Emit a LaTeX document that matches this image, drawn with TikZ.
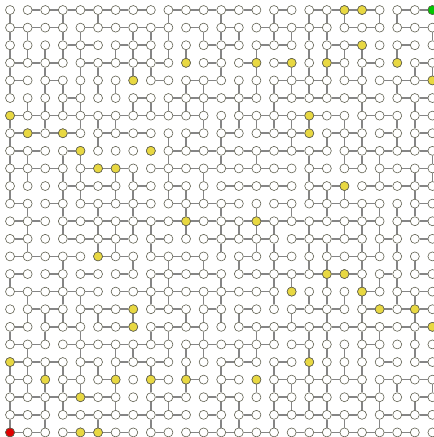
\documentclass[tikz,border=0pt]{standalone}
\usetikzlibrary{positioning}
\definecolor{rimgray}{HTML}{5E5E4E}
\definecolor{wiregray}{HTML}{858585}
\definecolor{goalyel}{HTML}{E8D842}
\definecolor{startred}{HTML}{E00000}
\definecolor{endgreen}{HTML}{00C800}

\tikzset{
  cell/.style={circle, draw=rimgray, fill=white, line width=0.5pt, inner sep=0pt, minimum size=0.27cm},
  wire/.style={wiregray, line width=1.4pt}
}

\begin{document}
\begin{tikzpicture}[x=0.528cm, y=-0.528cm]

% Frame
\useasboundingbox (-0.57,-0.57) rectangle (24.08,24.26);

% Grid cells
\foreach \c in {0,...,24}
  \foreach \r in {0,...,24}
    \node[cell] (n-\c-\r) at (\c,\r) {};

% Horizontal passages (row / left columns)
\foreach \r/\cs in {
  0/{1,2,3,4,5,6,7,9,10,11,12,13,15,17,18,19,20,22,23},
  1/{0,1,2,4,5,6,7,8,10,12,14,15,16,17,19,20,22,23},
  2/{3,4,6,7,11,12,14,15,18,19,22},
  3/{0,1,2,4,5,6,7,8,11,13,15,18,20,23},
  4/{0,2,8,10,11,15,16,17,19,21,22,23},
  5/{3,7,9,10,11,12,13,15,16,17,18,19,20,22,23},
  6/{0,1,2,3,4,5,6,7,8,9,10,13,14,15,16,17,18,20,21,23},
  7/{0,1,2,3,5,6,7,10,12,14,15,16,18,19,21,23},
  8/{0,1,3,9,10,11,12,13,14,15,16,17,19,20,21,22,23},
  9/{0,1,2,4,5,6,8,9,10,11,12,13,14,15,17,19,21,22,23},
  10/{3,4,5,7,9,12,13,14,15,17,18,20,21,22,23},
  11/{0,2,4,5,6,7,9,10,11,12,15,17,18,19,20,23},
  12/{0,1,3,4,5,6,7,8,9,10,11,12,13,14,15,16,17,18,19,20,22,23},
  13/{0,3,4,5,6,8,11,12,13,14,16,17,18,19,21,23},
  14/{0,1,2,3,5,6,8,9,10,13,15,18,19,20},
  15/{0,2,4,6,8,9,10,11,13,14,15,16,17,18,19,21,23},
  16/{0,1,2,3,4,6,7,8,9,10,11,12,13,14,20,22,23},
  17/{1,2,4,5,6,8,9,11,13,16,17,18,20,21,22,23},
  18/{0,2,3,5,6,8,9,10,13,14,15,16,17,18,19,20,21,22,23},
  19/{0,1,3,4,5,6,7,8,10,11,12,13,14,16,20},
  20/{0,1,2,4,6,7,8,12,13,15,21,23},
  21/{0,3,5,8,10,12,15,16,17,18,19,21,22,23},
  22/{0,1,2,3,4,5,8,9,11,12,15,17,19,20,23},
  23/{0,1,3,4,5,6,7,8,9,11,13,15,16,17,18,19,21,22,23},
  24/{0,1,3,4,5,6,8,10,11,12,13,14,16,17,18,19,20,21,22}}
  \foreach \c in \cs {
    \pgfmathtruncatemacro\cn{\c+1}
    \draw[wire] (n-\c-\r) -- (n-\cn-\r);
  }

% Vertical passages (upper row / columns)
\foreach \r/\cs in {
  0/{0,3,5,9,12,15,17,18,19,21,22},
  1/{0,1,3,4,7,8,9,11,12,13,15,16,17,18,24},
  2/{0,1,2,3,4,6,7,8,9,10,12,14,17,18,19,20,22},
  3/{0,2,4,5,7,8,12,14,16,17,18,19,20,23,24},
  4/{0,2,3,4,5,6,10,11,13,14,15,16,17,18,20,22},
  5/{1,2,3,4,7,8,9,10,11,13,15,20,23},
  6/{0,2,4,5,6,11,12,13,14,15,16,17,19,20,22,23},
  7/{0,5,9,10,12,16,18,19,20,22,23},
  8/{0,1,3,4,9,12,14,17,19,20,21,24},
  9/{0,1,3,4,6,7,9,11,17,21,23,24},
  10/{0,3,4,6,7,9,10,11,17,18,19,23},
  11/{1,3,5,7,10,12,14,16,18,20,21,22,23},
  12/{1,3,5,6,7,8,10,12,13,14,15,17,19,20,21,22},
  13/{1,5,6,8,12,14,15,17,18,20,21,22},
  14/{3,7,9,11,13,15,17,18,20,22,23},
  15/{0,3,8,9,12,15,16,18,20,21,22},
  16/{1,3,4,8,9,11,12,15,17,18,19,20,22,23},
  17/{1,2,3,4,5,7,10,11,12,13,16,18,20,23},
  18/{0,2,4,8,9,11,14,15,17,18,20,21,23},
  19/{1,4,6,7,9,10,11,13,14,17,18,19,20,21,23},
  20/{0,1,2,3,4,5,6,8,10,12,15,17,18,19,20},
  21/{0,1,2,3,4,6,8,10,12,14,15,16,17,18,20,21,22,24},
  22/{0,2,3,6,8,9,12,13,15,16,17,18,20,21,23},
  23/{0,2,5,8,12,13,15,18,19,21}}
  \foreach \c in \cs {
    \pgfmathtruncatemacro\rn{\r+1}
    \draw[wire] (n-\c-\r) -- (n-\c-\rn);
  }

% Marked cells
\foreach \c/\r in {19/0,20/0,20/2,10/3,14/3,16/3,18/3,22/3,7/4,24/4,0/6,17/6,1/7,3/7,17/7,
    4/8,8/8,5/9,6/9,19/10,10/12,14/12,5/14,18/15,19/15,16/16,20/16,7/17,21/17,23/17,
    7/18,24/18,0/20,17/20,2/21,6/21,8/21,10/21,14/21,4/22,4/24,5/24}
  \node[cell, fill=goalyel] (m-\c-\r) at (n-\c-\r) {};

% Start and end
\node[cell, fill=startred] (start) at (n-0-24) {};
\node[cell, fill=endgreen] (goal) at (n-24-0) {};

\end{tikzpicture}
\end{document}
